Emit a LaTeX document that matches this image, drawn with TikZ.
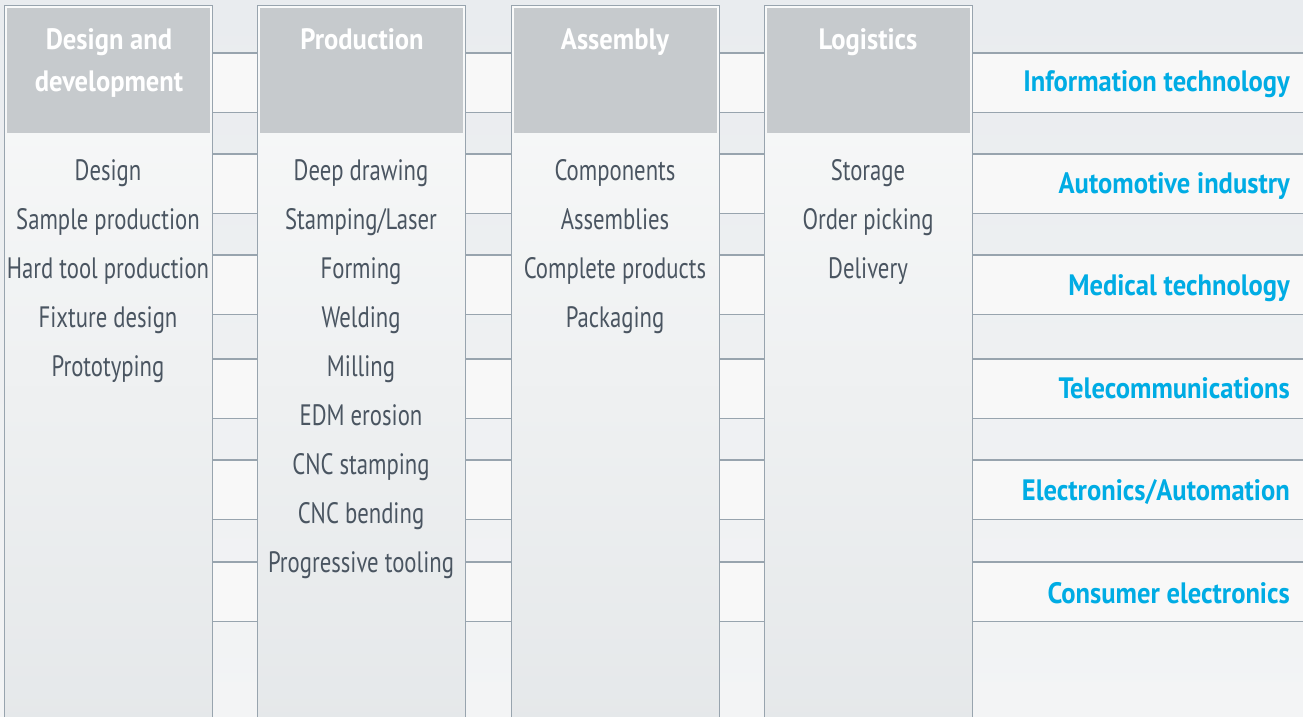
\documentclass[tikz,border=0pt]{standalone}
\usepackage{fontspec}
\setmainfont[FakeStretch=0.77,BoldFeatures={FakeStretch=0.90}]{PT Sans}
\usetikzlibrary{positioning}
\definecolor{bgtop}{HTML}{E9ECEF}
\definecolor{bgbot}{HTML}{F3F4F5}
\definecolor{bandc}{HTML}{F8F8F8}
\definecolor{linec}{HTML}{98A4AE}
\definecolor{headc}{HTML}{C6CACD}
\definecolor{bodytop}{HTML}{F9FAFA}
\definecolor{bodybot}{HTML}{E4E7E9}
\definecolor{txtc}{HTML}{4A5561}
\definecolor{bluec}{HTML}{00ACE4}
\tikzset{
  colbox/.style={draw=linec, line width=1.3pt, top color=bodytop, bottom color=bodybot, minimum width=208pt, minimum height=760pt, anchor=north west, inner sep=0pt},
  headbox/.style={fill=headc, minimum width=203pt, minimum height=125pt, anchor=north west, inner sep=0pt},
  headtxt/.style={font=\fontsize{29.5}{42}\selectfont\bfseries, text=white, anchor=base, inner sep=0pt},
  itemtxt/.style={font=\fontsize{29.5}{34}\selectfont, text=txtc, anchor=base, inner sep=0pt},
  bandbox/.style={fill=bandc, draw=none, minimum height=59pt, minimum width=1100pt, anchor=north west, inner sep=0pt},
  bandline/.style={draw=linec, line width=1.3pt},
  indtxt/.style={font=\fontsize{29.5}{34}\selectfont\bfseries, text=bluec, anchor=base east, inner sep=0pt}
}
\begin{document}
\begin{tikzpicture}[x=1pt,y=-1pt]
\clip (0,0) rectangle (1303,717);
\shade[top color=bgtop, bottom color=bgbot] (0,0) rectangle (1303,717);
% bands
\foreach \y [count=\i] in {53,154,255,359,460,562}{
  \node[bandbox] (band\i) at (213,\y) {};
  \draw[bandline] (band\i.north west) -- (band\i.north east);
  \draw[bandline] (band\i.south west) -- (band\i.south east);
}
% columns
\foreach \x/\n in {4/c1,257/c2,511/c3,764/c4}{
  \node[colbox] (\n) at (\x,5) {};
  \node[headbox] (\n h) at (\x+2.5,7.5) {};
}
% headers
\node[headtxt] (h1) at (109,49) {Design and};
\node[headtxt] (h1b) at (109,92) {development};
\node[headtxt] (h2) at (362,49) {Production};
\node[headtxt] (h3) at (615,49) {Assembly};
\node[headtxt] (h4) at (868,49) {Logistics};
% items
\foreach \t [count=\i] in {Design,Sample production,Hard tool production,Fixture design,Prototyping}{
  \node[itemtxt] (a\i) at (108,{180.7+49*(\i-1)}) {\t};
}
\foreach \t [count=\i] in {Deep drawing,Stamping/Laser,Forming,Welding,Milling,EDM erosion,CNC stamping,CNC bending,Progressive tooling}{
  \node[itemtxt] (b\i) at (361,{180.7+49*(\i-1)}) {\t};
}
\foreach \t [count=\i] in {Components,Assemblies,Complete products,Packaging}{
  \node[itemtxt] (d\i) at (615,{180.7+49*(\i-1)}) {\t};
}
\foreach \t [count=\i] in {Storage,Order picking,Delivery}{
  \node[itemtxt] (e\i) at (868,{180.7+49*(\i-1)}) {\t};
}
% industries
\foreach \t [count=\i] in {Information technology,Automotive industry,Medical technology,Telecommunications,Electronics/Automation,Consumer electronics}{
  \node[indtxt] (ind\i) at (1290,{91+102.4*(\i-1)}) {\t};
}
\end{tikzpicture}
\end{document}
